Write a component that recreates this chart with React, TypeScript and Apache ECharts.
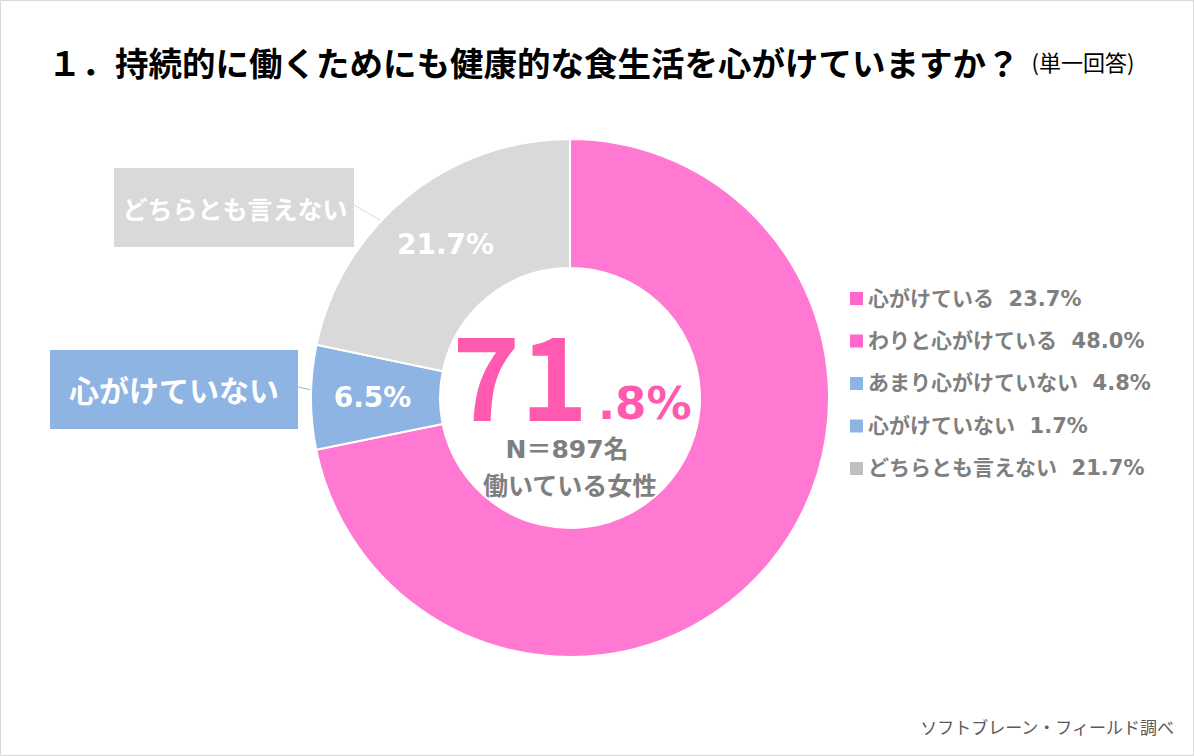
import React, { useEffect, useRef } from "react";
import * as echarts from "echarts";

const categories = ["心がけている", "わりと心がけている", "あまり心がけていない", "心がけていない", "どちらとも言えない"];
const values = [23.7, 48.0, 4.8, 1.7, 21.7];
const legendColors = ["#FF66CC", "#FF66CC", "#8DB4E2", "#8DB4E2", "#BFBFBF"];

const groupNames = ["心がけている", "心がけていない", "どちらとも言えない"];
const groupValues = [71.8, 6.5, 21.7];
const groupColors = ["#FF78D2", "#8EB4E3", "#D9D9D9"];

const sampleSize = 897;
const sampleLabel = "働いている女性";
const titleText = "１．持続的に働くためにも健康的な食生活を心がけていますか？";
const titleNote = "(単一回答)";
const sourceText = "ソフトブレーン・フィールド調べ";

const JP = "'DejaVu Sans', 'Noto Sans CJK JP', sans-serif";
const JPN = "'Noto Sans CJK JP', sans-serif";

export default function App() {
  const ref = useRef<HTMLDivElement>(null);
  useEffect(() => {
    if (!ref.current) return;
    const chart = echarts.init(ref.current, undefined, { renderer: "svg" });
    const total = groupValues[0].toFixed(1);
    const intPart = total.split(".")[0];
    const decPart = "." + total.split(".")[1] + "%";
    const center = [570, 398];
    const option: any = {
      animation: false,
      backgroundColor: "#ffffff",
      title: {
        left: 43,
        top: 40,
        text: `{a|${titleText}}{b|${titleNote}}`,
        textStyle: {
          rich: {
            a: { fontSize: 33.5, fontWeight: "bold", color: "#000000", fontFamily: JPN },
            b: { fontSize: 22, fontWeight: "normal", color: "#000000", fontFamily: JPN, padding: [0, 0, 1, 12] },
          },
        },
      },
      legend: {
        orient: "vertical",
        left: 845,
        top: 283,
        itemWidth: 13,
        itemHeight: 13,
        itemGap: 21.5,
        icon: "rect",
        data: categories,
        selectedMode: false,
        itemStyle: { opacity: 1 },
        formatter: (name: string) => {
          const i = categories.indexOf(name);
          return `${name}  ${values[i].toFixed(1)}%`;
        },
        textStyle: { fontSize: 21, fontWeight: "bold", color: "#7F7F7F", fontFamily: JP },
      },
      series: [
        {
          type: "pie",
          name: "legend",
          center,
          radius: [0, 0],
          silent: true,
          label: { show: false },
          labelLine: { show: false },
          itemStyle: { opacity: 0 },
          data: categories.map((n, i) => ({ name: n, value: values[i], itemStyle: { color: legendColors[i] } })),
        },
        {
          type: "pie",
          name: "total",
          center,
          radius: [130, 259],
          startAngle: 90,
          clockwise: true,
          silent: true,
          itemStyle: { borderColor: "#ffffff", borderWidth: 2 },
          label: {
            show: true,
            position: "inside",
            color: "#ffffff",
            fontSize: 28,
            fontWeight: "bold",
            fontFamily: JP,
            formatter: (p: any) => (p.dataIndex === 0 ? "" : p.value.toFixed(1) + "%"),
          },
          labelLine: { show: false },
          data: groupNames.map((n, i) => ({ name: n + "（計）", value: groupValues[i], itemStyle: { color: groupColors[i] } })),
        },
      ],
      graphic: [
        {
          type: "rect",
          shape: { x: 0.5, y: 0.5, width: 1193, height: 755 },
          style: { fill: "none", stroke: "#D9D9D9", lineWidth: 1 },
          silent: true,
        },
        {
          type: "text",
          x: 588,
          y: 371,
          style: {
            text: intPart,
            align: "right",
            verticalAlign: "middle",
            fontSize: 115,
            lineHeight: 88,
            fontWeight: "bold",
            fill: "#FF5AAF",
            fontFamily: JPN,
          },
        },
        {
          type: "text",
          x: 598,
          y: 403,
          style: {
            text: decPart,
            align: "left",
            verticalAlign: "middle",
            fontSize: 45,
            fontWeight: "bold",
            fill: "#FF5AAF",
            fontFamily: JP,
          },
        },
        {
          type: "text",
          x: 567,
          y: 449,
          style: {
            text: `N＝${sampleSize}名`,
            align: "center",
            verticalAlign: "middle",
            fontSize: 25,
            fontWeight: "bold",
            fill: "#7F7F7F",
            fontFamily: JP,
          },
        },
        {
          type: "text",
          x: 570,
          y: 484,
          style: {
            text: sampleLabel,
            align: "center",
            verticalAlign: "middle",
            fontSize: 25,
            fontWeight: "bold",
            fill: "#7F7F7F",
            fontFamily: JPN,
          },
        },
        {
          type: "text",
          x: 567,
          y: 570,
          style: {
            text: groupNames[0],
            align: "center",
            verticalAlign: "middle",
            fontSize: 56,
            fontWeight: "bold",
            fill: "#ffffff",
            fontFamily: JPN,
          },
        },
        {
          type: "line",
          shape: { x1: 354, y1: 205, x2: 380, y2: 220 },
          style: { stroke: "#D9D9D9", lineWidth: 1 },
        },
        {
          type: "rect",
          shape: { x: 114, y: 168, width: 240, height: 79 },
          style: { fill: groupColors[2] },
        },
        {
          type: "text",
          x: 235,
          y: 208,
          style: {
            text: groupNames[2],
            align: "center",
            verticalAlign: "middle",
            fontSize: 25,
            fontWeight: "bold",
            fill: "#ffffff",
            fontFamily: JPN,
          },
        },
        {
          type: "line",
          shape: { x1: 298, y1: 387, x2: 312, y2: 390 },
          style: { stroke: groupColors[1], lineWidth: 1 },
        },
        {
          type: "rect",
          shape: { x: 50, y: 350, width: 248, height: 79 },
          style: { fill: groupColors[1] },
        },
        {
          type: "text",
          x: 174,
          y: 389,
          style: {
            text: groupNames[1],
            align: "center",
            verticalAlign: "middle",
            fontSize: 30,
            fontWeight: "bold",
            fill: "#ffffff",
            fontFamily: JPN,
          },
        },
        {
          type: "text",
          x: 1174,
          y: 726,
          style: {
            text: sourceText,
            align: "right",
            verticalAlign: "middle",
            fontSize: 17,
            fill: "#595959",
            fontFamily: JPN,
          },
        },
      ],
    };
    chart.setOption(option);
    return () => chart.dispose();
  }, []);
  return (
    <div
      ref={ref}
      style={{ position: "absolute", left: 0, top: 0, width: 1194, height: 756 }}
    />
  );
}
